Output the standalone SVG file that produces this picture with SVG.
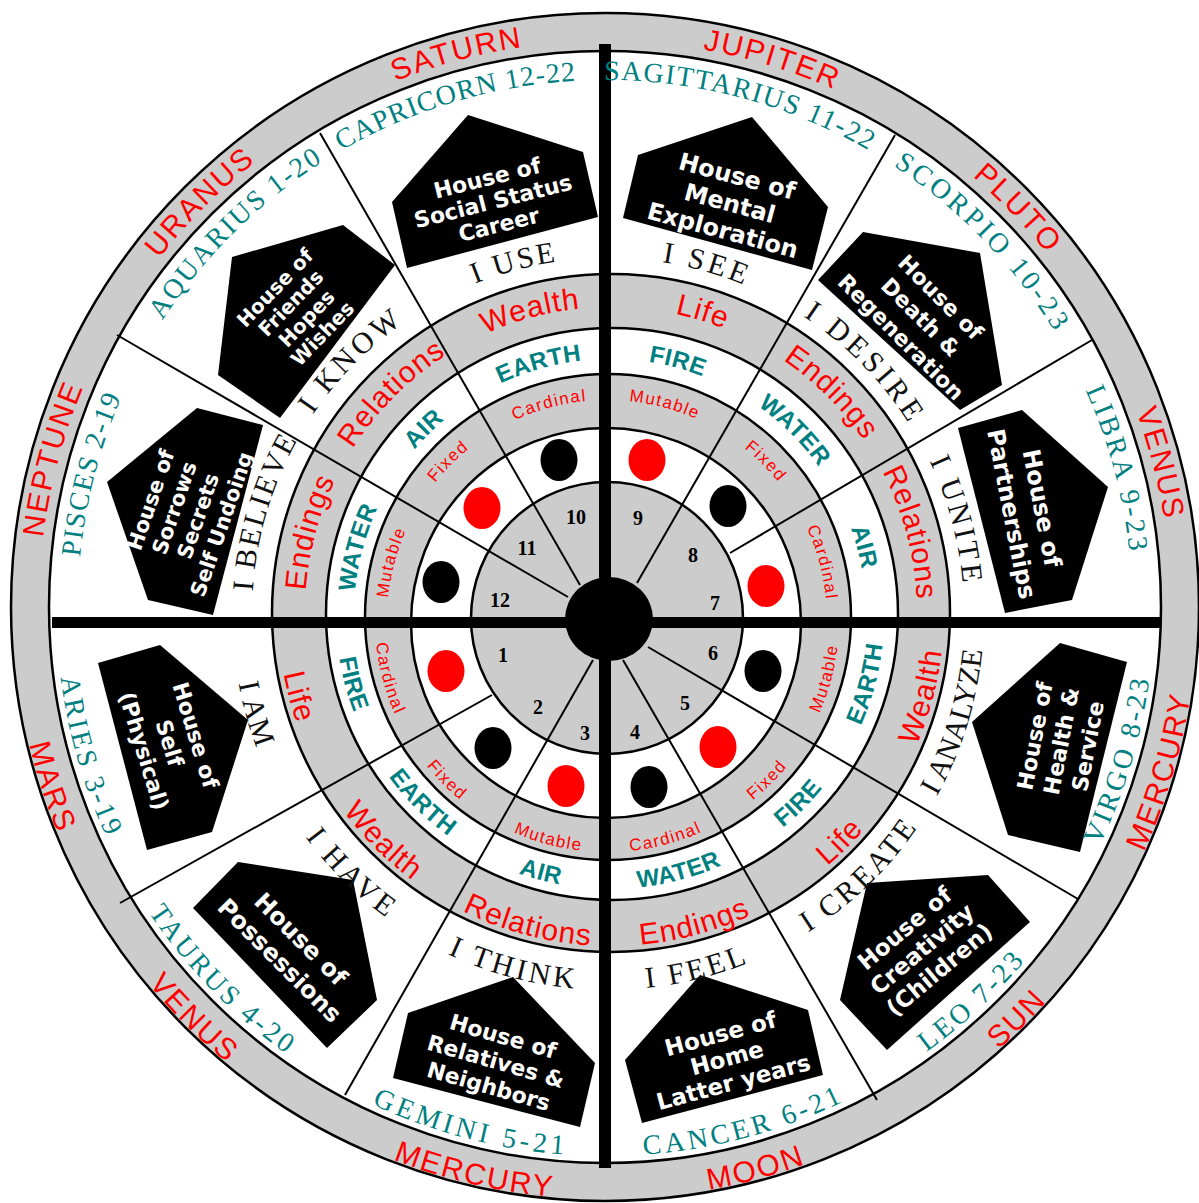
<svg xmlns="http://www.w3.org/2000/svg" width="1199" height="1203" viewBox="0 0 1199 1203">
<style>
.ring{stroke:#000;stroke-width:2.5}
.g{fill:#cccccc}
.w{fill:#ffffff}
.sp{stroke:#000;stroke-width:2;fill:none}
.pl{font-family:"Liberation Sans",Arial,sans-serif;font-size:30px;fill:#ff0000;text-anchor:middle;letter-spacing:2px}
.sg{font-family:"Liberation Serif","Times New Roman",serif;font-size:28px;fill:#008080;text-anchor:middle}
.it{font-family:"Liberation Serif","Times New Roman",serif;font-size:30px;fill:#111;text-anchor:middle}
.lf{font-family:"Liberation Sans",Arial,sans-serif;font-size:30px;fill:#ff0000;text-anchor:middle;letter-spacing:1px}
.el{font-family:"Liberation Sans",Arial,sans-serif;font-size:24px;font-weight:bold;fill:#008080;text-anchor:middle;letter-spacing:0.5px}
.md{font-family:"Liberation Sans",Arial,sans-serif;font-size:17px;fill:#ff0000;text-anchor:middle;letter-spacing:1.5px}
.num{font-family:"Liberation Serif","Times New Roman",serif;font-size:20px;font-weight:bold;fill:#000;text-anchor:middle}
.pent{fill:#000}
.pw{font-family:"DejaVu Sans",sans-serif;font-weight:bold;fill:#fff;text-anchor:middle}
.rd{fill:#ff0000}
.bk{fill:#000}
</style>
<defs>
<path id="plT" d="M605,1173 A566,566 0 1 1 605,41 A566,566 0 1 1 605,1173"/>
<path id="plB" d="M605,15 A592,592 0 1 0 605,1199 A592,592 0 1 0 605,15"/>
<path id="sgT" d="M605,1134 A527,527 0 1 1 605,80 A527,527 0 1 1 605,1134"/>
<path id="sgB" d="M605,58 A549,549 0 1 0 605,1156 A549,549 0 1 0 605,58"/>
<path id="iT" d="M608,970 A356,356 0 1 1 608,258 A356,356 0 1 1 608,970"/>
<path id="iB" d="M608,238 A376,376 0 1 0 608,990 A376,376 0 1 0 608,238"/>
<path id="lfT" d="M611,919 A306,306 0 1 1 611,307 A306,306 0 1 1 611,919"/>
<path id="lfB" d="M611,280 A333,333 0 1 0 611,946 A333,333 0 1 0 611,280"/>
<path id="elT" d="M610,871 A256,256 0 1 1 610,359 A256,256 0 1 1 610,871"/>
<path id="elB" d="M610,341 A274,274 0 1 0 610,889 A274,274 0 1 0 610,341"/>
<path id="mdT" d="M607,840 A220,220 0 1 1 607,400 A220,220 0 1 1 607,840"/>
<path id="mdB" d="M607,388 A232,232 0 1 0 607,852 A232,232 0 1 0 607,388"/>
</defs>
<rect width="1199" height="1203" fill="#fff"/>
<g id="rings">
<circle class="ring g" cx="605" cy="607" r="594"/>
<circle class="ring w" cx="605" cy="607" r="556"/>
<circle class="ring g" cx="611" cy="613" r="339"/>
<circle class="ring w" cx="612" cy="614" r="286"/>
<circle class="ring g" cx="608" cy="617" r="243"/>
<circle class="ring w" cx="606" cy="623" r="195"/>
<circle class="ring g" cx="607" cy="618" r="136"/>
</g>
<g id="connectors">
<line class="sp" x1="320" y1="133" x2="580" y2="585"/>
<line class="sp" x1="117" y1="335" x2="568" y2="597"/>
<line class="sp" x1="120" y1="903" x2="492" y2="695"/>
<line class="sp" x1="345" y1="1095" x2="593" y2="660"/>
<line class="sp" x1="895" y1="135" x2="637" y2="583"/>
<line class="sp" x1="1092" y1="340" x2="730" y2="553"/>
<line class="sp" x1="1078" y1="899" x2="648" y2="647"/>
<line class="sp" x1="877" y1="1100" x2="623" y2="660"/>
<rect x="599" y="44" width="12" height="1124" fill="#000"/>
<rect x="52" y="617" width="1108" height="11" fill="#000"/>
</g>
<g id="hub"><ellipse cx="609" cy="619" rx="44" ry="42" fill="#000"/></g>
<g id="planets">
<text class="pl"><textPath href="#plT" startOffset="45.833%">SATURN</textPath></text>
<text class="pl"><textPath href="#plT" startOffset="54.72%">JUPITER</textPath></text>
<text class="pl"><textPath href="#plT" startOffset="62.78%">PLUTO</textPath></text>
<text class="pl"><textPath href="#plT" startOffset="70.97%">VENUS</textPath></text>
<text class="pl"><textPath href="#plB" startOffset="70.42%">MERCURY</textPath></text>
<text class="pl"><textPath href="#plB" startOffset="62.5%">SUN</textPath></text>
<text class="pl"><textPath href="#plB" startOffset="54.167%">MOON</textPath></text>
<text class="pl"><textPath href="#plB" startOffset="46.39%">MERCURY</textPath></text>
<text class="pl"><textPath href="#plB" startOffset="37.5%">VENUS</textPath></text>
<text class="pl"><textPath href="#plB" startOffset="30%">MARS</textPath></text>
<text class="pl"><textPath href="#plT" startOffset="29.167%">NEPTUNE</textPath></text>
<text class="pl"><textPath href="#plT" startOffset="37.5%">URANUS</textPath></text>
</g>
<g id="life-ring">
<text class="lf"><textPath href="#lfT" startOffset="45.833%">Wealth</textPath></text>
<text class="lf"><textPath href="#lfT" startOffset="54.72%">Life</textPath></text>
<text class="lf"><textPath href="#lfT" startOffset="62.5%">Endings</textPath></text>
<text class="lf"><textPath href="#lfT" startOffset="70.833%">Relations</textPath></text>
<text class="lf"><textPath href="#lfB" startOffset="70.833%">Wealth</textPath></text>
<text class="lf"><textPath href="#lfB" startOffset="62.5%">Life</textPath></text>
<text class="lf"><textPath href="#lfB" startOffset="54.167%">Endings</textPath></text>
<text class="lf"><textPath href="#lfB" startOffset="45.833%">Relations</textPath></text>
<text class="lf"><textPath href="#lfB" startOffset="37.5%">Wealth</textPath></text>
<text class="lf"><textPath href="#lfB" startOffset="29.167%">Life</textPath></text>
<text class="lf"><textPath href="#lfT" startOffset="29.167%">Endings</textPath></text>
<text class="lf"><textPath href="#lfT" startOffset="37.5%">Relations</textPath></text>
</g>
<g id="element-ring">
<text class="el"><textPath href="#elT" startOffset="45.6%">EARTH</textPath></text>
<text class="el"><textPath href="#elT" startOffset="54.167%">FIRE</textPath></text>
<text class="el"><textPath href="#elT" startOffset="62.5%">WATER</textPath></text>
<text class="el"><textPath href="#elT" startOffset="70.833%">AIR</textPath></text>
<text class="el"><textPath href="#elB" startOffset="70.833%">EARTH</textPath></text>
<text class="el"><textPath href="#elB" startOffset="62.5%">FIRE</textPath></text>
<text class="el"><textPath href="#elB" startOffset="54.167%">WATER</textPath></text>
<text class="el"><textPath href="#elB" startOffset="45.833%">AIR</textPath></text>
<text class="el"><textPath href="#elB" startOffset="37.5%">EARTH</textPath></text>
<text class="el"><textPath href="#elB" startOffset="29.167%">FIRE</textPath></text>
<text class="el"><textPath href="#elT" startOffset="29.167%">WATER</textPath></text>
<text class="el"><textPath href="#elT" startOffset="37.5%">AIR</textPath></text>
</g>
<g id="mode-ring">
<text class="md"><textPath href="#mdT" startOffset="45.833%">Cardinal</textPath></text>
<text class="md"><textPath href="#mdT" startOffset="54.167%">Mutable</textPath></text>
<text class="md"><textPath href="#mdT" startOffset="62.5%">Fixed</textPath></text>
<text class="md"><textPath href="#mdT" startOffset="70.833%">Cardinal</textPath></text>
<text class="md"><textPath href="#mdB" startOffset="70.833%">Mutable</textPath></text>
<text class="md"><textPath href="#mdB" startOffset="62.5%">Fixed</textPath></text>
<text class="md"><textPath href="#mdB" startOffset="54.167%">Cardinal</textPath></text>
<text class="md"><textPath href="#mdB" startOffset="45.833%">Mutable</textPath></text>
<text class="md"><textPath href="#mdB" startOffset="37.5%">Fixed</textPath></text>
<text class="md"><textPath href="#mdB" startOffset="29.167%">Cardinal</textPath></text>
<text class="md"><textPath href="#mdT" startOffset="29.167%">Mutable</textPath></text>
<text class="md"><textPath href="#mdT" startOffset="37.5%">Fixed</textPath></text>
</g>
<g id="dots">
<ellipse class="bk" cx="559" cy="460" rx="18.5" ry="21"/>
<ellipse class="rd" cx="482" cy="508" rx="18.5" ry="21"/>
<ellipse class="bk" cx="441" cy="582" rx="18.5" ry="21"/>
<ellipse class="rd" cx="446" cy="671" rx="18.5" ry="21"/>
<ellipse class="bk" cx="493" cy="748" rx="18.5" ry="21"/>
<ellipse class="rd" cx="566" cy="786" rx="18.5" ry="21"/>
<ellipse class="bk" cx="649" cy="787" rx="18.5" ry="21"/>
<ellipse class="rd" cx="718" cy="747" rx="18.5" ry="21"/>
<ellipse class="bk" cx="763" cy="671" rx="18.5" ry="21"/>
<ellipse class="rd" cx="766" cy="586" rx="18.5" ry="21"/>
<ellipse class="bk" cx="728" cy="506" rx="18.5" ry="21"/>
<ellipse class="rd" cx="647" cy="460" rx="18.5" ry="21"/>
</g>
<g id="numbers">
<text class="num" x="576" y="524">10</text>
<text class="num" x="638" y="525">9</text>
<text class="num" x="527" y="555">11</text>
<text class="num" x="693" y="562">8</text>
<text class="num" x="500" y="607">12</text>
<text class="num" x="715" y="610">7</text>
<text class="num" x="503" y="662">1</text>
<text class="num" x="713" y="660">6</text>
<text class="num" x="538" y="714">2</text>
<text class="num" x="685" y="710">5</text>
<text class="num" x="585" y="740">3</text>
<text class="num" x="635" y="739">4</text>
</g>
<g id="house-10">
<polygon class="pent" points="468,115 583,152 598,217 407,268 392,202"/>
<text class="pw" font-size="22" transform="translate(493,201) rotate(-14)"><tspan x="0" y="-16">House of</tspan><tspan x="0" y="8">Social Status</tspan><tspan x="0" y="32">Career</tspan></text>
<text class="sg" letter-spacing="1"><textPath href="#sgT" startOffset="45.4%">CAPRICORN 12-22</textPath></text>
<text class="it" letter-spacing="2.5"><textPath href="#iT" startOffset="45.833%">I USE</textPath></text>
</g>
<g id="house-9">
<polygon class="pent" points="752,117 828,207 812,270 623,218 638,155"/>
<text class="pw" font-size="24" transform="translate(730,203) rotate(15)"><tspan x="0" y="-19.5">House of</tspan><tspan x="0" y="8.5">Mental</tspan><tspan x="0" y="36.5">Exploration</tspan></text>
<text class="sg" letter-spacing="1.5"><textPath href="#sgT" startOffset="54.17%">SAGITTARIUS 11-22</textPath></text>
<text class="it" letter-spacing="3.5"><textPath href="#iT" startOffset="54.4%">I SEE</textPath></text>
</g>
<g id="house-8">
<polygon class="pent" points="863,232 980,253 1002,385 960,410 818,280"/>
<text class="pw" font-size="22" transform="translate(921,317) rotate(45)"><tspan x="0" y="-20">House of</tspan><tspan x="0" y="8">Death &amp;</tspan><tspan x="0" y="36">Regeneration</tspan></text>
<text class="sg" letter-spacing="3.5"><textPath href="#sgT" startOffset="62.78%">SCORPIO 10-23</textPath></text>
<text class="it" letter-spacing="4"><textPath href="#iT" startOffset="62.7%">I DESIRE</textPath></text>
</g>
<g id="house-7">
<polygon class="pent" points="1022,410 1108,487 1072,600 1005,613 958,428"/>
<text class="pw" font-size="24" transform="translate(1027,511) rotate(79)"><tspan x="0" y="-7">House of</tspan><tspan x="0" y="24">Partnerships</tspan></text>
<text class="sg" letter-spacing="3"><textPath href="#sgT" startOffset="70.83%">LIBRA 9-23</textPath></text>
<text class="it" letter-spacing="3.3"><textPath href="#iT" startOffset="70.833%">I UNITE</textPath></text>
</g>
<g id="house-6">
<polygon class="pent" points="1060,643 1127,662 1080,852 1008,835 972,722"/>
<text class="pw" font-size="22" transform="translate(1061,741) rotate(-79)"><tspan x="0" y="-19">House of</tspan><tspan x="0" y="8">Health &amp;</tspan><tspan x="0" y="35">Service</tspan></text>
<text class="sg" letter-spacing="3"><textPath href="#sgB" startOffset="70.4%">VIRGO 8-23</textPath></text>
<text class="it" letter-spacing="0"><textPath href="#iB" startOffset="70.2%">I ANALYZE</textPath></text>
</g>
<g id="house-5">
<polygon class="pent" points="988,875 1030,922 887,1050 840,1000 867,883"/>
<text class="pw" font-size="23" transform="translate(922,949) rotate(-40)"><tspan x="0" y="-19">House of</tspan><tspan x="0" y="8">Creativity</tspan><tspan x="0" y="35">(Children)</tspan></text>
<text class="sg" letter-spacing="3"><textPath href="#sgB" startOffset="61.94%">LEO 7-23</textPath></text>
<text class="it" letter-spacing="3"><textPath href="#iB" startOffset="62.2%">I CREATE</textPath></text>
</g>
<g id="house-4">
<polygon class="pent" points="700,975 808,1010 823,1075 642,1123 625,1060"/>
<text class="pw" font-size="23" transform="translate(727,1058) rotate(-15)"><tspan x="0" y="-17">House of</tspan><tspan x="0" y="8">Home</tspan><tspan x="0" y="33">Latter years</tspan></text>
<text class="sg" letter-spacing="3.5"><textPath href="#sgB" startOffset="54.17%">CANCER 6-21</textPath></text>
<text class="it" letter-spacing="3"><textPath href="#iB" startOffset="53.9%">I FEEL</textPath></text>
</g>
<g id="house-3">
<polygon class="pent" points="513,977 595,1063 580,1127 393,1078 408,1013"/>
<text class="pw" font-size="22" transform="translate(496,1061) rotate(16)"><tspan x="0" y="-18">House of</tspan><tspan x="0" y="8">Relatives &amp;</tspan><tspan x="0" y="34">Neighbors</tspan></text>
<text class="sg" letter-spacing="4"><textPath href="#sgB" startOffset="45.97%">GEMINI 5-21</textPath></text>
<text class="it" letter-spacing="3.5"><textPath href="#iB" startOffset="45.83%">I THINK</textPath></text>
</g>
<g id="house-2">
<polygon class="pent" points="238,862 353,880 377,1000 327,1048 193,908"/>
<text class="pw" font-size="24" transform="translate(290,950) rotate(45)"><tspan x="0" y="-7">House of</tspan><tspan x="0" y="23">Possessions</tspan></text>
<text class="sg" letter-spacing="3"><textPath href="#sgB" startOffset="37.3%">TAURUS 4-20</textPath></text>
<text class="it" letter-spacing="3.5"><textPath href="#iB" startOffset="37.6%">I HAVE</textPath></text>
</g>
<g id="house-1">
<polygon class="pent" points="160,645 248,720 212,832 147,850 98,663"/>
<text class="pw" font-size="22" transform="translate(170,743) rotate(73)"><tspan x="0" y="-19">House of</tspan><tspan x="0" y="8">Self</tspan><tspan x="0" y="35">(Physical)</tspan></text>
<text class="sg" letter-spacing="3"><textPath href="#sgB" startOffset="29.5%">ARIES 3-19</textPath></text>
<text class="it" letter-spacing="1"><textPath href="#iB" startOffset="29.4%">I AM</textPath></text>
</g>
<g id="house-12">
<polygon class="pent" points="197,408 263,425 213,615 148,600 107,482"/>
<text class="pw" font-size="21" transform="translate(186,512) rotate(-71)"><tspan x="0" y="-30">House of</tspan><tspan x="0" y="-5">Sorrows</tspan><tspan x="0" y="20">Secrets</tspan><tspan x="0" y="45">Self Undoing</tspan></text>
<text class="sg" letter-spacing="1.5"><textPath href="#sgT" startOffset="29.03%">PISCES 2-19</textPath></text>
<text class="it" letter-spacing="2"><textPath href="#iT" startOffset="29.6%">I BELIEVE</textPath></text>
</g>
<g id="house-11">
<polygon class="pent" points="343,225 395,265 280,418 218,375 232,257"/>
<text class="pw" font-size="20" transform="translate(298,310) rotate(-46)"><tspan x="0" y="-25">House of</tspan><tspan x="0" y="-3">Friends</tspan><tspan x="0" y="19">Hopes</tspan><tspan x="0" y="41">Wishes</tspan></text>
<text class="sg" letter-spacing="2"><textPath href="#sgT" startOffset="37.6%">AQUARIUS 1-20</textPath></text>
<text class="it" letter-spacing="3.5"><textPath href="#iT" startOffset="37.4%">I KNOW</textPath></text>
</g>
</svg>
